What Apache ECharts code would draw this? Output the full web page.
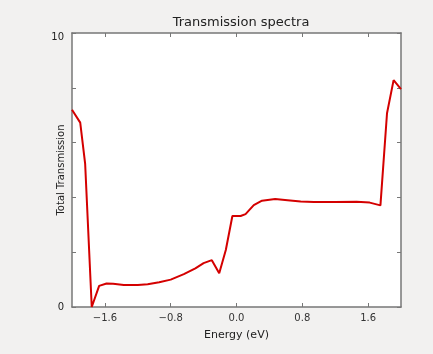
<!DOCTYPE html>
<html><head><meta charset="utf-8">
<script src="https://cdn.jsdelivr.net/npm/echarts@6/dist/echarts.min.js"></script>
<style>html,body{margin:0;padding:0;background:#f2f1f0;}#c{width:433px;height:354px;}</style>
</head><body><div id="c"></div>
<script>
const energy = [-2.0, -1.9, -1.84, -1.76, -1.67, -1.58, -1.5, -1.37, -1.2, -1.08, -0.94, -0.8, -0.64, -0.5, -0.4, -0.3, -0.21, -0.13, -0.05, 0.05, 0.11, 0.21, 0.31, 0.47, 0.62, 0.78, 0.94, 1.2, 1.46, 1.62, 1.75, 1.83, 1.91, 2.0];
const transmission = [7.2, 6.73, 5.22, 0.0, 0.77, 0.86, 0.85, 0.80, 0.80, 0.83, 0.90, 1.0, 1.2, 1.41, 1.6, 1.71, 1.23, 2.08, 3.32, 3.32, 3.39, 3.72, 3.88, 3.94, 3.9, 3.85, 3.83, 3.83, 3.84, 3.81, 3.71, 7.07, 8.28, 7.95];
const xTicks = [-1.6, -0.8, 0.0, 0.8, 1.6];
const yLabels = [0, 10];

const font = 'DejaVu Sans';
const chart = echarts.init(document.getElementById('c'));
const fmtX = v => (v < 0 ? '\u2212' : '') + Math.abs(v).toFixed(1);
const axisLine = {show: true, onZero: false, lineStyle: {color: '#777', width: 1.5}};
chart.setOption({
  backgroundColor: '#f2f1f0',
  animation: false,
  title: {text: 'Transmission spectra', left: 236, top: 11, textAlign: 'center',
    textStyle: {fontFamily: font, fontSize: 13, fontWeight: 'normal', color: '#222'}},
  grid: {left: 72, right: 32, top: 33, bottom: 47, show: true, backgroundColor: '#fff', borderWidth: 0},
  xAxis: [{
    type: 'value', min: -2, max: 2,
    name: 'Energy (eV)', nameLocation: 'middle', nameGap: 23, nameMoveOverlap: false,
    nameTextStyle: {fontFamily: font, fontSize: 11, color: '#222'},
    axisLine: axisLine,
    axisTick: {show: true, inside: true, length: 4, lineStyle: {color: '#777'},
      customValues: xTicks},
    axisLabel: {fontFamily: font, fontSize: 10, color: '#333', margin: 6,
      customValues: xTicks, formatter: fmtX},
    splitLine: {show: false}
  }, {
    type: 'value', min: -2, max: 2, position: 'top',
    axisLine: axisLine,
    axisTick: {show: true, inside: true, length: 4, lineStyle: {color: '#777'}, customValues: xTicks},
    axisLabel: {show: false}, splitLine: {show: false}
  }],
  yAxis: [{
    type: 'value', min: 0, max: 10, interval: 2,
    name: 'Total Transmission', nameLocation: 'middle', nameGap: 6, nameRotate: 90, nameMoveOverlap: false,
    nameTextStyle: {fontFamily: font, fontSize: 10, color: '#222'},
    axisLine: axisLine,
    axisTick: {show: true, inside: true, length: 4, lineStyle: {color: '#777'}},
    axisLabel: {fontFamily: font, fontSize: 10, color: '#222', margin: 8,
      formatter: v => yLabels.indexOf(v) < 0 ? '' : (v === 10 ? '{t|10}' : String(v)),
      rich: {t: {fontFamily: font, fontSize: 10, color: '#222', padding: [8, 0, 0, 0]}}},
    splitLine: {show: false}
  }, {
    type: 'value', min: 0, max: 10, interval: 2, position: 'right',
    axisLine: axisLine,
    axisTick: {show: true, inside: true, length: 4, lineStyle: {color: '#777'}},
    axisLabel: {show: false}, splitLine: {show: false}
  }],
  series: [{
    type: 'line', xAxisIndex: 0, yAxisIndex: 0,
    data: energy.map((e, i) => [e, transmission[i]]),
    showSymbol: false, smooth: false,
    lineStyle: {color: '#d40000', width: 2},
    clip: true
  }]
});
</script></body></html>
